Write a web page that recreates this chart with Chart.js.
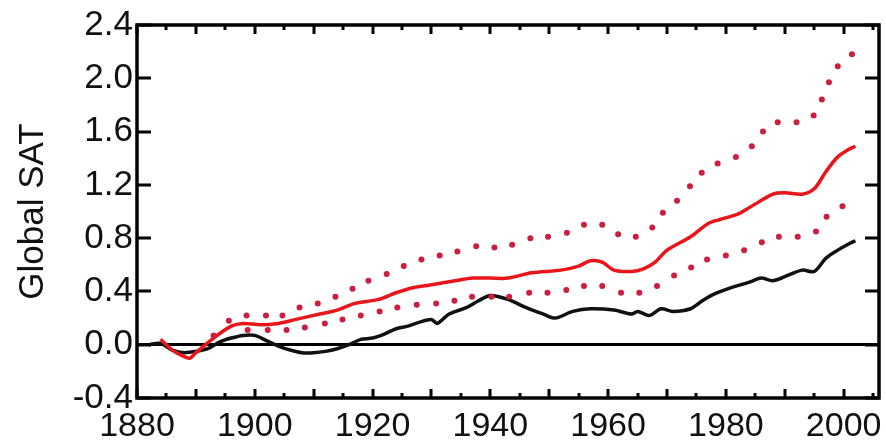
<!DOCTYPE html>
<html>
<head>
<meta charset="utf-8">
<script src="https://cdn.jsdelivr.net/npm/chart.js@4/dist/chart.umd.min.js"></script>
<style>
  html, body { margin: 0; padding: 0; background: #fff; }
  #wrap { width: 886px; height: 448px; }
</style>
</head>
<body>
<div id="wrap"><canvas id="satChart"></canvas></div>
<script>
// observed global surface air temperature anomaly
const obsYears = [1882, 1884, 1886, 1888, 1890, 1892, 1894, 1896, 1898, 1900, 1902, 1904, 1906, 1908, 1910, 1912, 1914, 1916, 1918, 1920, 1922, 1924, 1926, 1928, 1930, 1931, 1933, 1936, 1938, 1940, 1943, 1946, 1949, 1951, 1954, 1957, 1961, 1964, 1965, 1967, 1969, 1971, 1974, 1976, 1978, 1981, 1984, 1986, 1988, 1991, 1993, 1995, 1997, 1999, 2001, 2002];
const obsTemp = [0.0, 0.01, -0.04, -0.06, -0.05, -0.03, 0.02, 0.05, 0.07, 0.07, 0.03, -0.01, -0.04, -0.06, -0.06, -0.05, -0.03, 0.0, 0.04, 0.05, 0.08, 0.12, 0.14, 0.17, 0.19, 0.16, 0.23, 0.28, 0.33, 0.37, 0.34, 0.28, 0.23, 0.2, 0.25, 0.27, 0.26, 0.23, 0.25, 0.22, 0.27, 0.25, 0.27, 0.33, 0.38, 0.43, 0.47, 0.5, 0.48, 0.53, 0.56, 0.55, 0.65, 0.71, 0.76, 0.78];

// model ensemble mean
const modelYears = [1884, 1886, 1888, 1889, 1890, 1893, 1896, 1898, 1901, 1904, 1907, 1910, 1914, 1917, 1921, 1924, 1927, 1930, 1934, 1937, 1940, 1943, 1947, 1952, 1955, 1957, 1959, 1961, 1964, 1966, 1968, 1970, 1974, 1977, 1979, 1982, 1984, 1988, 1990, 1993, 1995, 1997, 1999, 2001, 2002];
const modelTemp = [0.04, -0.04, -0.09, -0.1, -0.06, 0.05, 0.14, 0.16, 0.15, 0.16, 0.19, 0.22, 0.26, 0.31, 0.34, 0.39, 0.43, 0.45, 0.48, 0.5, 0.5, 0.5, 0.54, 0.56, 0.59, 0.63, 0.62, 0.56, 0.55, 0.57, 0.62, 0.71, 0.81, 0.91, 0.94, 0.98, 1.03, 1.13, 1.14, 1.13, 1.17, 1.3, 1.41, 1.47, 1.49];

// ensemble spread, upper and lower bounds
const upperYears = [1895.6, 1898.6, 1901.9, 1904.7, 1907.6, 1910.7, 1913.7, 1916.6, 1919.3, 1922.4, 1925.3, 1928.3, 1931.4, 1934.4, 1937.6, 1940.7, 1943.7, 1946.8, 1949.8, 1953, 1955.9, 1959, 1961.7, 1964.7, 1967.5, 1969.3, 1971.7, 1973.9, 1975.9, 1978.6, 1981.7, 1984.4, 1986.3, 1988.8, 1992, 1994.9, 1996.3, 1997.5, 1999, 2001.4];
const upperTemp = [0.18, 0.22, 0.22, 0.22, 0.28, 0.31, 0.36, 0.42, 0.48, 0.53, 0.59, 0.64, 0.67, 0.7, 0.74, 0.73, 0.75, 0.8, 0.81, 0.84, 0.9, 0.9, 0.83, 0.81, 0.88, 0.99, 1.08, 1.19, 1.29, 1.36, 1.41, 1.49, 1.6, 1.67, 1.67, 1.72, 1.84, 1.97, 2.09, 2.18];
const lowerYears = [1893, 1898.8, 1902.2, 1905.4, 1908.5, 1911.9, 1914.9, 1918, 1921.2, 1924.2, 1927.5, 1930.8, 1933.9, 1936.9, 1940.2, 1943.2, 1946.6, 1949.7, 1952.9, 1955.9, 1959, 1962.2, 1965.3, 1968.3, 1971.2, 1974.1, 1976.8, 1980, 1983.1, 1986.1, 1989, 1992.2, 1995.3, 1997.1, 1999.8];
const lowerTemp = [0.07, 0.11, 0.11, 0.11, 0.13, 0.16, 0.19, 0.22, 0.25, 0.28, 0.3, 0.31, 0.33, 0.36, 0.36, 0.36, 0.39, 0.39, 0.41, 0.44, 0.44, 0.39, 0.39, 0.44, 0.52, 0.58, 0.64, 0.67, 0.71, 0.77, 0.81, 0.81, 0.85, 0.96, 1.04];

const yearTicks = [1880, 1900, 1920, 1940, 1960, 1980, 2000];
const satTicks = [-0.4, 0.0, 0.4, 0.8, 1.2, 1.6, 2.0, 2.4];

const toPoints = (xs, ys) => xs.map((x, i) => ({ x: x, y: ys[i] }));

// box round the plot with inward tick marks on all four sides
const framePlugin = {
  id: 'frame',
  afterDraw(chart) {
    const { ctx, chartArea: a, scales } = chart;
    ctx.save();
    ctx.fillStyle = '#000';
    for (let yr = 1880; yr <= 2005; yr += 5) {
      const px = Math.round(scales.x.getPixelForValue(yr));
      const len = yr % 10 === 0 ? 9 : 5;
      ctx.fillRect(px - 1.5, a.bottom - len, 3, len);
      ctx.fillRect(px - 1.5, a.top, 3, len);
    }
    satTicks.forEach(v => {
      const py = Math.round(scales.y.getPixelForValue(v));
      ctx.fillRect(a.left, py - 1.5, 14, 3);
      ctx.fillRect(a.right - 14, py - 1.5, 14, 3);
    });
    ctx.strokeStyle = '#000';
    ctx.lineWidth = 3.5;
    ctx.strokeRect(a.left, a.top, a.right - a.left, a.bottom - a.top);
    ctx.restore();
  }
};

new Chart(document.getElementById('satChart'), {
  type: 'line',
  data: {
    datasets: [
      {
        label: 'upper',
        data: toPoints(upperYears, upperTemp),
        showLine: false,
        pointRadius: 3,
        pointBackgroundColor: '#cc1f3f',
        pointBorderWidth: 0,
      },
      {
        label: 'lower',
        data: toPoints(lowerYears, lowerTemp),
        showLine: false,
        pointRadius: 3,
        pointBackgroundColor: '#cc1f3f',
        pointBorderWidth: 0,
      },
      {
        label: 'model',
        data: toPoints(modelYears, modelTemp),
        borderColor: '#e8161b',
        borderWidth: 3.5,
        pointRadius: 0,
        tension: 0.3,
      },
      {
        label: 'observed',
        data: toPoints(obsYears, obsTemp),
        borderColor: '#111',
        borderWidth: 3.5,
        pointRadius: 0,
        tension: 0.3,
      },
    ],
  },
  options: {
    responsive: true,
    maintainAspectRatio: false,
    animation: false,
    layout: { padding: { top: 17, right: 7, left: 0, bottom: 0 } },
    plugins: { legend: { display: false }, tooltip: { enabled: false } },
    scales: {
      x: {
        type: 'linear',
        min: 1880,
        max: 2006,
        afterBuildTicks: (s) => { s.ticks = yearTicks.map(v => ({ value: v })); },
        afterFit: (s) => {
          s.height = 50;
          // labels may hang past the plot edge, don't shrink the plot for them
          s.paddingLeft = 0;
          s.paddingRight = 0;
        },
        grid: { display: false, drawTicks: false },
        border: { display: false },
        ticks: {
          padding: 8,
          color: '#111',
          maxRotation: 0,
          autoSkip: false,
          callback: (v) => String(v),
          font: { family: '"Liberation Sans", Arial', size: 34 },
        },
      },
      y: {
        min: -0.4,
        max: 2.4,
        afterBuildTicks: (s) => { s.ticks = satTicks.map(v => ({ value: v })); },
        afterFit: (s) => { s.width = 137; },
        grid: {
          drawTicks: false,
          color: (c) => (c.tick && Math.abs(c.tick.value) < 1e-9 ? '#000' : 'rgba(0,0,0,0)'),
          lineWidth: 3,
        },
        border: { display: false },
        ticks: {
          padding: 4,
          color: '#111',
          callback: (v) => v.toFixed(1),
          font: { family: '"Liberation Sans", Arial', size: 35 },
        },
        title: {
          display: true,
          text: 'Global SAT',
          color: '#111',
          padding: { top: 12, bottom: 0 },
          font: { family: '"Liberation Sans", Arial', size: 35 },
        },
      },
    },
  },
  plugins: [framePlugin],
});
</script>
</body>
</html>
